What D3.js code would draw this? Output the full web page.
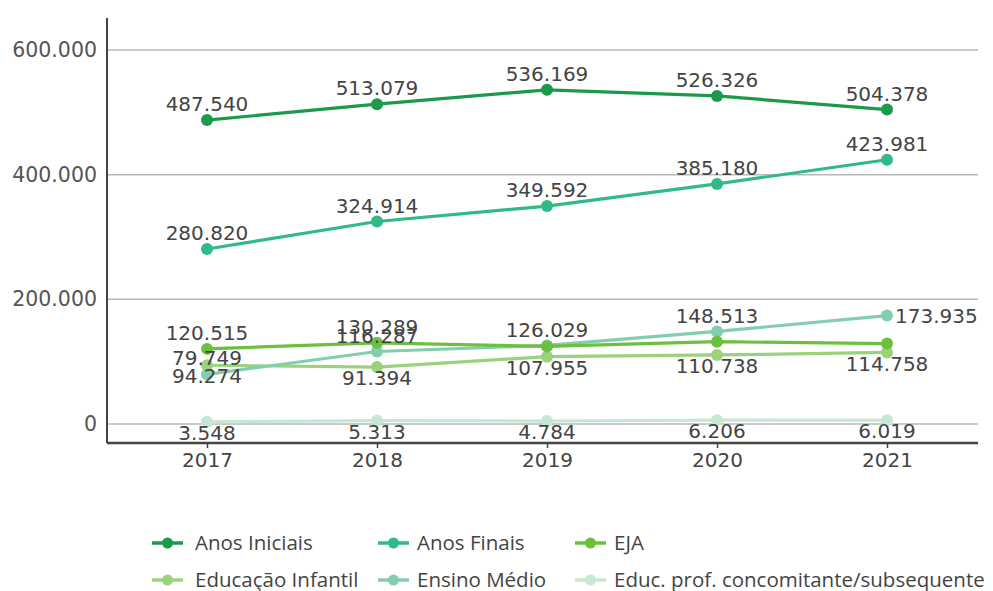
<!DOCTYPE html>
<html>
<head>
<meta charset="utf-8">
<script src="https://cdn.jsdelivr.net/npm/d3@7"></script>
<style>
  body { margin: 0; background: #fff; }
  svg { display: block; }
</style>
</head>
<body>
<div id="chart"></div>
<script>
// data
const years = ['2017', '2018', '2019', '2020', '2021']
const yTicks = [0, 200000, 400000, 600000]

const anosIniciais = [487540, 513079, 536169, 526326, 504378]
const anosFinais = [280820, 324914, 349592, 385180, 423981]
const eja = [120515, 130289, 124500, 132000, 129000]
const ejaLabels = [true, true, false, false, false]
const educInfantil = [94274, 91394, 107955, 110738, 114758]
const ensinoMedio = [79749, 116287, 126029, 148513, 173935]
const educProf = [3548, 5313, 4784, 6206, 6019]

const seriesNames = ['Anos Iniciais', 'Anos Finais', 'EJA', 'Educação Infantil', 'Ensino Médio', 'Educ. prof. concomitante/subsequente']
const colors = ['#1b9a4c', '#2fba86', '#6cc03f', '#9bd27c', '#82cfb0', '#c6e7d4']

const series = [
  {name: seriesNames[0], values: anosIniciais, color: colors[0], pos: 'above'},
  {name: seriesNames[1], values: anosFinais, color: colors[1], pos: 'above'},
  {name: seriesNames[5], values: educProf, color: colors[5], pos: 'below'},
  {name: seriesNames[3], values: educInfantil, color: colors[3], pos: 'below'},
  {name: seriesNames[4], values: ensinoMedio, color: colors[4], pos: 'above', lastRight: true},
  {name: seriesNames[2], values: eja, color: colors[2], pos: 'above', show: ejaLabels}
]

const width = 993
const height = 591
const margin = {top: 18, right: 15, bottom: 148, left: 107}

const svg = d3.select('#chart').append('svg')
  .attr('width', width)
  .attr('height', height)

const x = d3.scalePoint()
  .domain(years)
  .range([207, 887])

const y = d3.scaleLinear()
  .domain([0, 600000])
  .range([424, 50])

const fmt = d => d3.format(',')(d).replace(/,/g, '.')

// grid lines
svg.append('g')
  .selectAll('line')
  .data(yTicks)
  .join('line')
  .attr('x1', margin.left)
  .attr('x2', width - margin.right)
  .attr('y1', d => y(d))
  .attr('y2', d => y(d))
  .attr('stroke', '#b8b8b8')
  .attr('stroke-width', 1.5)

// y axis
const yAxis = svg.append('g')
  .attr('transform', `translate(${margin.left},0)`)
  .call(d3.axisLeft(y).tickValues(yTicks).tickSize(0).tickPadding(10).tickFormat(fmt))
yAxis.select('.domain').remove()
yAxis.selectAll('text')
  .attr('fill', '#555')
  .style('font-family', 'DejaVu Sans, sans-serif')
  .style('font-size', '20.5px')

svg.append('line')
  .attr('x1', margin.left).attr('x2', margin.left)
  .attr('y1', margin.top).attr('y2', height - margin.bottom)
  .attr('stroke', '#444').attr('stroke-width', 2)

// x axis
const xAxis = svg.append('g')
  .attr('transform', `translate(0,${height - margin.bottom})`)
  .call(d3.axisBottom(x).tickSize(5).tickPadding(5))
xAxis.select('.domain')
  .attr('d', `M${margin.left},0H${width - margin.right}`)
  .attr('stroke', '#444').attr('stroke-width', 2.5)
xAxis.selectAll('.tick line').attr('stroke', '#444').attr('stroke-width', 1.5)
xAxis.selectAll('text')
  .attr('fill', '#444')
  .style('font-family', 'DejaVu Sans, sans-serif')
  .style('font-size', '20px')

// lines
const line = d3.line()
  .x((d, i) => x(years[i]))
  .y(d => y(d))

const g = svg.append('g')
series.forEach(s => {
  g.append('path')
    .datum(s.values)
    .attr('d', line)
    .attr('fill', 'none')
    .attr('stroke', s.color)
    .attr('stroke-width', 3.2)
  g.selectAll(null)
    .data(s.values)
    .join('circle')
    .attr('cx', (d, i) => x(years[i]))
    .attr('cy', d => y(d))
    .attr('r', 6)
    .attr('fill', s.color)
})

// value labels
series.forEach(s => {
  s.values.forEach((v, i) => {
    if (s.show && !s.show[i]) return
    let tx = x(years[i]), ty = y(v), anchor = 'middle'
    if (s.lastRight && i === years.length - 1) {
      tx += 8; anchor = 'start'
    } else if (s.pos === 'above') {
      ty -= 16
    } else {
      ty += 11
    }
    svg.append('text')
      .attr('x', tx)
      .attr('y', ty)
      .attr('dy', '0.36em')
      .attr('text-anchor', anchor)
      .attr('fill', '#444')
      .style('font-family', 'DejaVu Sans, sans-serif')
      .style('font-size', '20px')
      .text(fmt(v))
  })
})

// legend
const legendX = [152, 378, 575]
const legendY = [543, 580]
const legend = svg.append('g')
seriesNames.forEach((name, i) => {
  const lx = legendX[i % 3], ly = legendY[Math.floor(i / 3)]
  const item = legend.append('g').attr('transform', `translate(${lx},${ly})`)
  item.append('line')
    .attr('x1', 0).attr('x2', 31)
    .attr('stroke', colors[i]).attr('stroke-width', 3.5)
  item.append('circle')
    .attr('cx', 15.5).attr('r', 5.5)
    .attr('fill', colors[i])
  item.append('text')
    .attr('x', i % 3 === 0 ? 43 : 39)
    .attr('dy', '0.35em')
    .attr('fill', '#444')
    .style('font-family', 'Open Sans, sans-serif')
    .style('font-size', '20.5px')
    .text(name)
})
</script>
</body>
</html>
